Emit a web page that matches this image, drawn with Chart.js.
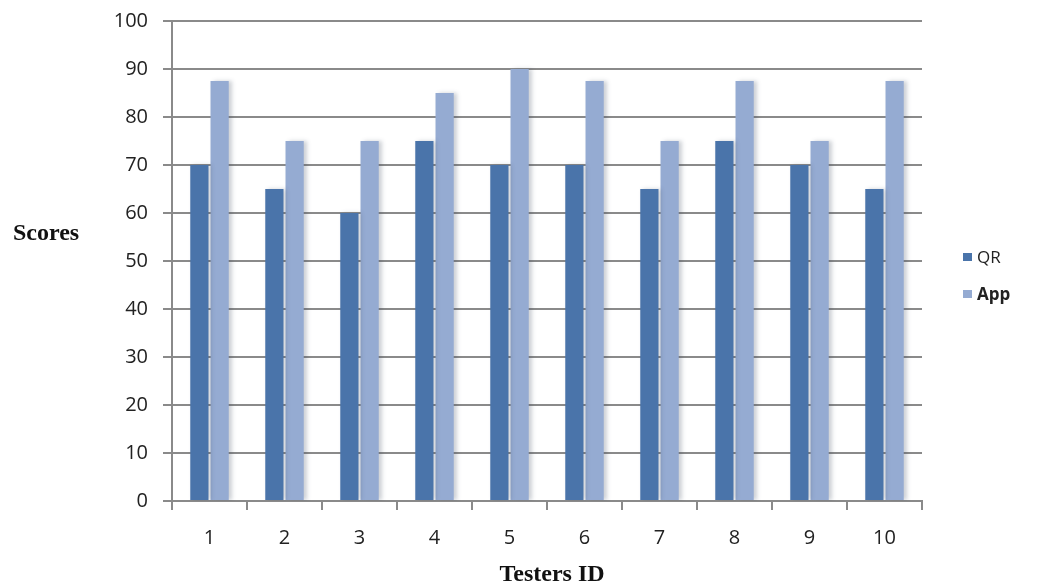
<!DOCTYPE html>
<html>
<head>
<meta charset="utf-8">
<script src="https://cdn.jsdelivr.net/npm/chart.js@4"></script>
<style>
  body { margin: 0; background: #fff; }
  #wrap { position: relative; width: 1039px; height: 588px; }
  #legend { position: absolute; left: 963px; top: 238px; font-family: "Open Sans", "Liberation Sans", sans-serif; font-size: 17px; color: #222; }
  #legend div { height: 37px; display: flex; align-items: center; }
  #legend span.box { display: inline-block; width: 9px; height: 8px; margin-right: 5px; }
</style>
</head>
<body>
<div id="wrap">
  <canvas id="myChart" width="1039" height="588"></canvas>
  <div id="legend"></div>
</div>
<script>
const testers = ['1', '2', '3', '4', '5', '6', '7', '8', '9', '10'];
const qrScores = [70, 65, 60, 75, 70, 70, 65, 75, 70, 65];
const appScores = [87.5, 75, 75, 85, 90, 87.5, 75, 87.5, 75, 87.5];
const seriesNames = ['QR', 'App'];
const seriesColors = ['#4a74aa', '#95abd2'];

// bars in the picture have a soft shadow to the right
const barShadow = {
    id: 'barShadow',
    beforeDatasetsDraw: (chart) => {
        const c = chart.ctx;
        c.save();
        c.shadowColor = 'rgba(60,70,90,0.25)';
        c.shadowBlur = 4;
        c.shadowOffsetX = 3;
        c.shadowOffsetY = 0;
    },
    afterDatasetsDraw: (chart) => {
        chart.ctx.restore();
    }
};

// axis titles are horizontal serif text, drawn by hand
const axisTitles = {
    id: 'axisTitles',
    afterDraw: (chart) => {
        const c = chart.ctx;
        c.save();
        c.fillStyle = '#111';
        c.font = 'bold 24px "Liberation Serif", "Times New Roman", serif';
        c.textBaseline = 'middle';
        c.textAlign = 'left';
        c.fillText('Scores', 13, 234);
        c.textAlign = 'center';
        c.fillText('Testers ID', 552, 575);
        c.restore();
    }
};

const tickFont = { family: '"Open Sans", "Liberation Sans", sans-serif', size: 20 };

const ctx = document.getElementById('myChart');

new Chart(ctx, {
    type: 'bar',
    data: {
        labels: testers,
        datasets: [{
            label: seriesNames[0],
            data: qrScores,
            backgroundColor: seriesColors[0],
            barPercentage: 0.9,
            categoryPercentage: 0.54
        }, {
            label: seriesNames[1],
            data: appScores,
            backgroundColor: seriesColors[1],
            barPercentage: 0.9,
            categoryPercentage: 0.54
        }]
    },
    options: {
        responsive: false,
        animation: false,
        layout: { padding: { left: 0, right: 117, top: 21, bottom: 0 } },
        plugins: {
            legend: { display: false },
            tooltip: { enabled: false }
        },
        scales: {
            x: {
                afterFit: (s) => { s.height = 87; s.paddingLeft = 0; s.paddingRight = 0; },
                grid: {
                    offset: true,
                    drawOnChartArea: false,
                    drawTicks: true,
                    tickLength: 9,
                    color: '#8a8a8a',
                    lineWidth: 2
                },
                border: { color: '#8a8a8a', width: 2 },
                ticks: {
                    padding: 16,
                    color: '#222',
                    font: tickFont
                }
            },
            y: {
                min: 0,
                max: 100,
                afterFit: (s) => { s.width = 172; s.paddingTop = 0; s.paddingBottom = 0; },
                grid: {
                    color: '#8a8a8a',
                    lineWidth: 2,
                    tickLength: 9
                },
                border: { color: '#8a8a8a', width: 2 },
                ticks: {
                    stepSize: 10,
                    padding: 15,
                    color: '#222',
                    font: tickFont
                }
            }
        }
    },
    plugins: [barShadow, axisTitles]
});

// html legend, "App" is bold in the original
const legendEl = document.getElementById('legend');
seriesNames.forEach((name, i) => {
    const row = document.createElement('div');
    const box = document.createElement('span');
    box.className = 'box';
    box.style.background = seriesColors[i];
    const txt = document.createElement('span');
    txt.textContent = name;
    if (i === 1) txt.style.fontWeight = 'bold';
    row.appendChild(box);
    row.appendChild(txt);
    legendEl.appendChild(row);
});
</script>
</body>
</html>
